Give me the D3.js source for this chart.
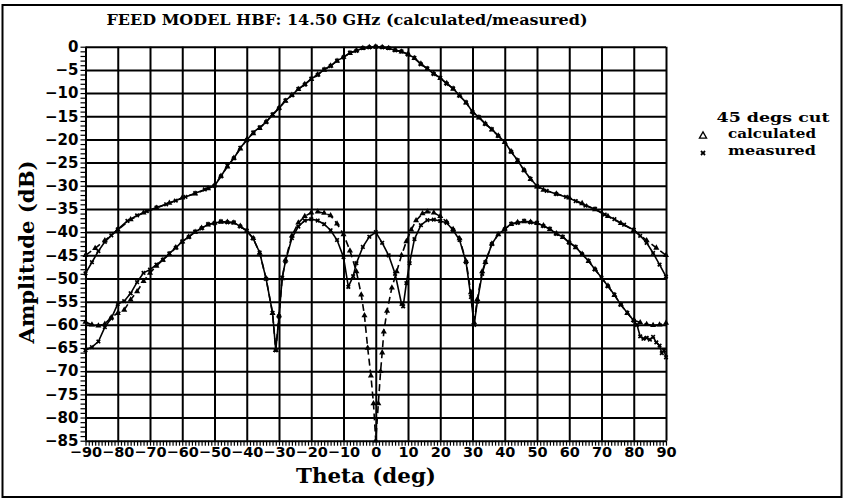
<!DOCTYPE html>
<html>
<head>
<meta charset="utf-8">
<script src="https://cdn.jsdelivr.net/npm/d3@7"></script>
<style>
  body { margin: 0; background: #fff; }
  svg { display: block; }
  .serif { font-family: "DejaVu Serif", "Liberation Serif", serif; font-weight: bold; }
  .tick-label { font-family: "DejaVu Sans", "Liberation Sans", sans-serif; font-weight: bold; }
</style>
</head>
<body>
<div id="chart"></div>
<script>
// --- data ---
const thetaTicks = d3.range(-90, 91, 10);
const dbTicks = d3.range(0, -86, -5);

// main beam (co-polar)
const thetaCoCalc = [-90, -87, -84, -80, -76, -72, -68, -64, -60, -56, -52, -50, -48, -46, -44, -42, -40, -38, -36, -34, -32, -30, -28, -26, -24, -22, -20, -18, -16, -14, -12, -10, -8, -6, -4, -2, 0,
  2, 4, 6, 8, 10, 12, 14, 16, 18, 20, 22, 24, 26, 28, 30, 32, 34, 36, 38, 40, 42, 44, 46, 48, 50, 52, 56, 60, 64, 68, 72, 76, 80, 84, 87, 90];
const coCalc = [-45, -43.5, -41.8, -39.5, -37.3, -35.8, -34.8, -33.7, -32.6, -31.7, -30.6, -29.9, -27.9, -25.9, -24, -22, -20, -18.7, -17.6, -16.2, -14.8, -13.2, -11.7, -10.4, -9.2, -8.1, -7, -6, -5, -4.1, -3.1, -2.2, -1.4, -0.8, -0.35, -0.1, 0,
  -0.1, -0.35, -0.7, -1.1, -1.6, -2.5, -3.7, -4.8, -5.8, -6.8, -7.9, -9.1, -10.5, -12.1, -14, -15.3, -16.6, -17.9, -19.2, -20.6, -22.6, -24.6, -26.6, -28.6, -30.2, -30.9, -31.7, -32.6, -33.8, -35.1, -36.6, -38.1, -39.6, -41.8, -43.4, -45];

const thetaCoMeas = [-90, -88, -86, -84, -82, -80, -77, -74, -71, -68, -65, -62, -59, -56, -53, -50, -48, -46, -44, -42, -40, -38, -36, -34, -32, -30, -28, -26, -24, -22, -20, -18, -16, -14, -12, -10, -8, -6, -4, -2, 0,
  2, 4, 6, 8, 10, 12, 14, 16, 18, 20, 22, 24, 26, 28, 30, 32, 34, 36, 38, 40, 42, 44, 46, 48, 50, 53, 56, 59, 62, 65, 68, 71, 74, 77, 80, 82, 84, 86, 88, 90];
const coMeas = [-48.9, -46.5, -44.1, -42.1, -40.7, -39.4, -37.6, -36.4, -35.5, -34.7, -34, -33.2, -32.4, -31.6, -30.8, -30, -28, -25.7, -24.1, -21.8, -20.2, -18.5, -17.4, -16.3, -14.6, -13.3, -11.6, -10.5, -9.1, -8.2, -6.9, -6.1, -4.9, -4.2, -3, -2.3, -1.3, -0.9, -0.3, -0.15, 0,
  -0.15, -0.3, -0.8, -1, -1.7, -2.4, -3.8, -4.7, -5.9, -6.7, -8, -9, -10.6, -12, -14.1, -15.2, -16.7, -17.8, -19.3, -20.5, -22.7, -24.5, -26.7, -28.5, -30.1, -31.1, -31.8, -32.4, -33.3, -34.3, -35, -36.2, -37.2, -38.4, -39.5, -40.8, -42.3, -44.5, -47, -49.6];

// cross-polar
const thetaXCalc = [-90, -88, -86, -84, -82, -80, -78, -76, -74, -72, -70, -68, -66, -64, -62, -60, -58, -56, -54, -52, -50, -48, -46, -44, -42, -40, -38, -36, -34, -32, -31, -30, -29, -28, -26, -24, -22, -20, -18, -16, -14, -12, -10, -8, -6, -4.5, -3.5, -2.5, -1.5, -0.7, 0,
  0.8, 1.5, 2, 2.5, 3.5, 5, 6.5, 8, 9.5, 11, 12.5, 14.5, 16, 18, 20, 22, 24, 26, 28, 29.5, 30.5, 31.5, 33, 34, 36, 38, 40, 42, 44, 46, 48, 50, 52, 54, 56, 58, 60, 62, 64, 66, 68, 70, 72, 74, 76, 78, 80, 82, 84, 86, 88, 90];
const xCalc = [-59.4, -60, -60.2, -59.8, -58.4, -57.5, -56.8, -54.6, -52.8, -50.6, -48.8, -47.3, -46, -44.8, -43.3, -42.1, -41, -40, -39.1, -38.4, -38, -37.8, -37.8, -38, -38.7, -39.8, -41.3, -44.5, -50, -57.5, -65.5, -58, -50, -46, -40.8, -38, -36.6, -35.8, -35.6, -35.9, -36.4, -38.2, -40.5, -44, -48.5, -53.5, -58, -65, -71, -77, -85,
  -77, -70, -66, -61.5, -57, -52, -48.5, -45, -42, -39.5, -37.5, -36, -35.6, -35.8, -36.6, -37.8, -39.4, -41.4, -46.3, -53, -59.5, -54.5, -48.5, -46.5, -42.5, -40.5, -39.3, -38.3, -37.9, -37.7, -37.8, -38.1, -38.6, -39.4, -40.3, -41.1, -42.2, -43.3, -44.7, -46.3, -48, -49.9, -51.6, -53.6, -55.6, -57.5, -59, -59.5, -59.9, -60.1, -60, -59.6];

const thetaXMeas = [-90, -88, -86, -84, -82, -80, -78, -76, -74, -72, -70, -68, -66, -64, -62, -60, -58, -56, -54, -52, -50, -48, -46, -44, -42, -40, -38, -36, -34, -32, -31, -30, -29, -28, -26, -24, -22, -20, -18, -16, -14, -12, -10, -8.5, -7, -6, -4, -2, 0,
  2, 4, 6, 8, 8.5, 9.5, 10.5, 12, 14, 16, 18, 20, 22, 24, 26, 28, 29.5, 30.5, 31.5, 33, 34, 36, 38, 40, 42, 44, 46, 48, 50, 52, 54, 56, 58, 60, 62, 64, 66, 68, 70, 72, 74, 76, 78, 80, 81, 82, 83, 84, 85, 86, 87, 88, 88.7, 89.4, 90];
const xMeas = [-65.5, -64.8, -63.6, -60.5, -58.6, -55.5, -54.9, -53.2, -50.8, -48.8, -48.1, -47, -46, -44.6, -43.4, -42, -41.1, -39.9, -39.2, -38.3, -38.1, -37.7, -37.9, -37.9, -38.8, -39.7, -41.4, -44.4, -50.1, -57.4, -65.5, -58.2, -49.8, -46.3, -41.3, -38.8, -37.5, -37.2, -37.5, -38.3, -39.6, -41.7, -45.4, -51.8, -49.5, -46.7, -43.2, -41, -40,
  -42.3, -45, -49, -55.5, -56, -51, -46.7, -41.5, -38.5, -37.4, -37.3, -37.6, -38, -39.6, -41.7, -46.5, -54, -60, -55, -49, -46.5, -42.6, -40.4, -39.4, -38.2, -38, -37.6, -37.9, -38, -38.7, -39.3, -40.4, -41, -42.3, -43.2, -44.8, -46.2, -48.1, -49.8, -51.7, -53.5, -55.7, -57.4, -59.1, -60, -62.5, -63, -62.8, -63.2, -62.6, -63.8, -64.5, -66.1, -65.5, -67];

const titleText = "FEED MODEL HBF: 14.50 GHz (calculated/measured)";
const legendTitle = "45 degs cut";
const legendItems = ["calculated", "measured"];

// --- layout ---
const W = 846, H = 500;
const plot = { left: 85.5, right: 666, top: 46.7, bottom: 440.7 };

const svg = d3.select("#chart").append("svg").attr("width", W).attr("height", H);

const x = d3.scaleLinear().domain([-90, 90]).range([plot.left, plot.right]);
const y = d3.scaleLinear().domain([0, -85]).range([plot.top, plot.bottom]);
const fmt = d => d < 0 ? "\u2212" + (-d) : String(d);

// outer frame
svg.append("rect").attr("x", 2.5).attr("y", 5).attr("width", 839).attr("height", 492)
  .attr("fill", "none").attr("stroke", "#000").attr("stroke-width", 2);

// minor ticks
svg.append("g").attr("transform", `translate(0,${plot.bottom})`)
  .call(d3.axisBottom(x).tickValues(d3.range(-90, 91, 1)).tickSize(5).tickFormat(""))
  .call(g => g.select(".domain").remove())
  .call(g => g.selectAll("line").attr("stroke-width", 1.2));
svg.append("g").attr("transform", `translate(${plot.left},0)`)
  .call(d3.axisLeft(y).tickValues(d3.range(0, -86, -1)).tickSize(5).tickFormat(""))
  .call(g => g.select(".domain").remove())
  .call(g => g.selectAll("line").attr("stroke-width", 1.2));

// grid
svg.append("g").attr("transform", `translate(0,${plot.bottom})`)
  .call(d3.axisBottom(x).tickValues(thetaTicks).tickSize(-(plot.bottom - plot.top)).tickFormat(""))
  .call(g => g.select(".domain").remove())
  .call(g => g.selectAll("line").attr("stroke-width", 2));
svg.append("g").attr("transform", `translate(${plot.left},0)`)
  .call(d3.axisLeft(y).tickValues(dbTicks).tickSize(-(plot.right - plot.left)).tickFormat(""))
  .call(g => g.select(".domain").remove())
  .call(g => g.selectAll("line").attr("stroke-width", 2));

// tick labels
svg.append("g").attr("transform", `translate(0,${plot.bottom})`)
  .call(d3.axisBottom(x).tickValues(thetaTicks).tickSize(0).tickPadding(6.5).tickFormat(fmt))
  .call(g => g.select(".domain").remove())
  .call(g => g.selectAll("text").attr("class", "tick-label").style("font-size", "14.5px").attr("fill", "#000"));
svg.append("g").attr("transform", `translate(${plot.left},0)`)
  .call(d3.axisLeft(y).tickValues(dbTicks).tickSize(0).tickPadding(7).tickFormat(fmt))
  .call(g => g.select(".domain").remove())
  .call(g => g.selectAll("text").attr("class", "tick-label").style("font-size", "15px").attr("fill", "#000"));

// axis titles
svg.append("text").attr("class", "serif").attr("x", 366).attr("y", 483)
  .attr("text-anchor", "middle").style("font-size", "21px")
  .attr("textLength", 140).attr("lengthAdjust", "spacingAndGlyphs").text("Theta (deg)");
svg.append("text").attr("class", "serif")
  .attr("transform", "translate(34,252) rotate(-90)")
  .attr("text-anchor", "middle").style("font-size", "21px")
  .attr("textLength", 183).attr("lengthAdjust", "spacingAndGlyphs").text("Amplitude (dB)");

// title
svg.append("text").attr("class", "serif").attr("x", 347).attr("y", 25)
  .attr("text-anchor", "middle").style("font-size", "14px")
  .attr("textLength", 481).attr("lengthAdjust", "spacingAndGlyphs").text(titleText);

// curves
const line = d3.line().x(d => x(d[0])).y(d => y(d[1]));
const zip = (a, b) => a.map((t, i) => [t, b[i]]);

const series = [
  { pts: zip(thetaCoCalc, coCalc), kind: "calc" },
  { pts: zip(thetaXCalc, xCalc), kind: "calc" },
  { pts: zip(thetaCoMeas, coMeas), kind: "meas" },
  { pts: zip(thetaXMeas, xMeas), kind: "meas" },
];

const triangle = d3.symbol(d3.symbolTriangle, 16);
const cross = d3.symbol(d3.symbolCross, 14);

series.forEach(s => {
  svg.append("path").datum(s.pts).attr("d", line)
    .attr("fill", "none").attr("stroke", "#000").attr("stroke-width", 1.6)
    .attr("stroke-dasharray", s.kind === "calc" ? "7,4" : null);
  svg.append("g").selectAll("path").data(s.pts).join("path")
    .attr("d", s.kind === "calc" ? triangle : cross)
    .attr("transform", d => `translate(${x(d[0])},${y(d[1])})` + (s.kind === "calc" ? "" : " rotate(45)"))
    .attr("fill", "#000");
});

// legend
const lg = svg.append("g");
lg.append("text").attr("class", "serif").attr("x", 773).attr("y", 122)
  .attr("text-anchor", "middle").style("font-size", "13px")
  .attr("textLength", 113).attr("lengthAdjust", "spacingAndGlyphs").text(legendTitle);
legendItems.forEach((name, i) => {
  const ly = 138 + i * 17;
  lg.append("text").attr("class", "serif").attr("x", 772).attr("y", ly)
    .attr("text-anchor", "middle").style("font-size", "13px")
    .attr("textLength", 88).attr("lengthAdjust", "spacingAndGlyphs").text(name);
  lg.append("path")
    .attr("d", i === 0 ? d3.symbol(d3.symbolTriangle, 22)() : d3.symbol(d3.symbolCross, 18)())
    .attr("transform", `translate(703,${ly - 2})` + (i === 0 ? "" : " rotate(45)"))
    .attr("fill", i === 0 ? "none" : "#000").attr("stroke", "#000").attr("stroke-width", i === 0 ? 1.3 : 0);
});
</script>
</body>
</html>
